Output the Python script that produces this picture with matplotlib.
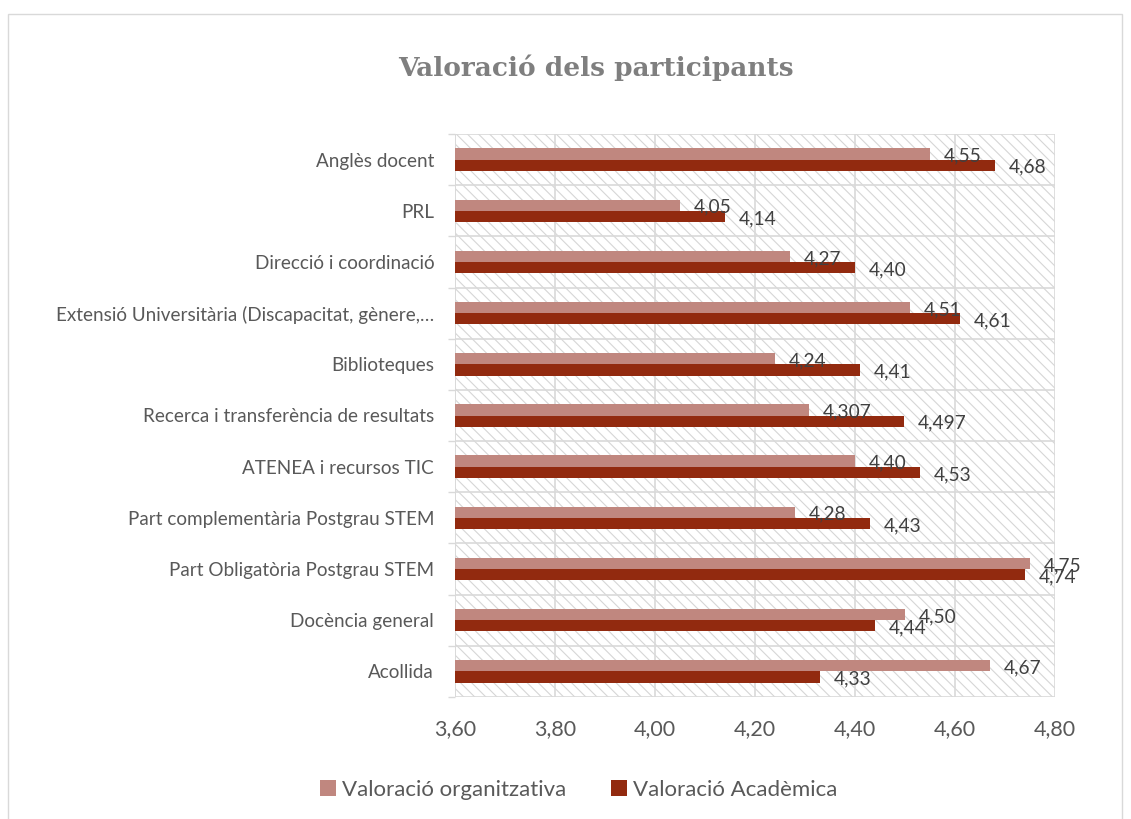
import matplotlib
matplotlib.use("Agg")
import matplotlib.pyplot as plt
from matplotlib.patches import Rectangle
import numpy as np

categories = ["Acollida", "Docència general", "Part Obligatòria Postgrau STEM",
              "Part complementària Postgrau STEM", "ATENEA i recursos TIC",
              "Recerca i transferència de resultats", "Biblioteques",
              "Extensió Universitària (Discapacitat, gènere,…",
              "Direcció i coordinació", "PRL", "Anglès docent"]
org_values = [4.67, 4.50, 4.75, 4.28, 4.40, 4.307, 4.24, 4.51, 4.27, 4.05, 4.55]
acad_values = [4.33, 4.44, 4.74, 4.43, 4.53, 4.497, 4.41, 4.61, 4.40, 4.14, 4.68]
org_labels = ["4,67", "4,50", "4,75", "4,28", "4,40", "4,307", "4,24", "4,51", "4,27", "4,05", "4,55"]
acad_labels = ["4,33", "4,44", "4,74", "4,43", "4,53", "4,497", "4,41", "4,61", "4,40", "4,14", "4,68"]
xticks = [3.60, 3.80, 4.00, 4.20, 4.40, 4.60, 4.80]
xtick_labels = ["3,60", "3,80", "4,00", "4,20", "4,40", "4,60", "4,80"]
series_names = ["Valoració organitzativa", "Valoració Acadèmica"]

ORG_C = "#C0877F"
ACAD_C = "#922A0F"
GRID_C = "#D9D9D9"
TXT_C = "#595959"

plt.rcParams['font.family'] = ['Lato', 'DejaVu Sans']
plt.rcParams['hatch.color'] = '#D6D6D6'
plt.rcParams['hatch.linewidth'] = 0.8

W, H = 1131, 819
fig = plt.figure(figsize=(W / 100, H / 100), dpi=100)
ax = fig.add_axes([455 / W, 1 - 697 / H, 600 / W, 563 / H])

# figure frame
fig.patches.append(Rectangle((8 / W, -0.05), (1122 - 8) / W, 1.05 - 14 / H,
                             transform=fig.transFigure, fill=False,
                             edgecolor=GRID_C, linewidth=1.0, zorder=0))

# hatched background
ax.add_patch(Rectangle((0, 0), 1, 1, transform=ax.transAxes, facecolor='white',
                       edgecolor='#D6D6D6', hatch='\\\\\\', linewidth=0, zorder=0))

n = len(categories)
y = np.arange(n)
bh = 0.22
ax.barh(y + bh / 2, org_values, height=bh, color=ORG_C, label=series_names[0], zorder=3)
ax.barh(y - bh / 2, acad_values, height=bh, color=ACAD_C, label=series_names[1], zorder=3)

for i in range(n):
    ax.annotate(org_labels[i], (org_values[i], y[i] + bh / 2), xytext=(10, -1.5),
                textcoords='offset points', ha='left', va='center',
                fontsize=13.8, color='#404040', zorder=5)
    ax.annotate(acad_labels[i], (acad_values[i], y[i] - bh / 2), xytext=(10, -1.5),
                textcoords='offset points', ha='left', va='center',
                fontsize=13.8, color='#404040', zorder=5)

ax.set_xlim(3.6, 4.8)
ax.set_ylim(-0.5, n - 0.5)
ax.set_xticks(xticks)
ax.set_xticklabels(xtick_labels, fontsize=15.5, color=TXT_C)
ax.tick_params(axis='x', length=0, pad=16)

ax.set_yticks(y)
ax.set_yticklabels(categories, fontsize=13.6, color=TXT_C)
ax.set_yticks(np.arange(n + 1) - 0.5, minor=True)
ax.tick_params(axis='y', which='major', length=0, pad=15)
ax.tick_params(axis='y', which='minor', length=5, color=GRID_C, width=1)

ax.grid(True, axis='x', color=GRID_C, linewidth=1.2, zorder=1)
for b in np.arange(n + 1) - 0.5:
    ax.axhline(b, color=GRID_C, linewidth=1.2, zorder=1)
for s in ax.spines.values():
    s.set_visible(False)
ax.axvline(3.6, color=GRID_C, linewidth=1.2, zorder=2)
ax.set_axisbelow(True)

fig.text(596 / W, 1 - 68 / H, "Valoració dels participants", ha='center', va='center',
         fontsize=19, fontweight='bold', color='#7F7F7F', family='DejaVu Serif')

fig.legend(loc='center', bbox_to_anchor=(579 / W, 1 - 790 / H), ncol=2, frameon=False,
           fontsize=16, handlelength=0.7, handleheight=0.7, handletextpad=0.3,
           columnspacing=2.0, labelcolor=TXT_C)

fig.savefig("out.png", dpi=100)
